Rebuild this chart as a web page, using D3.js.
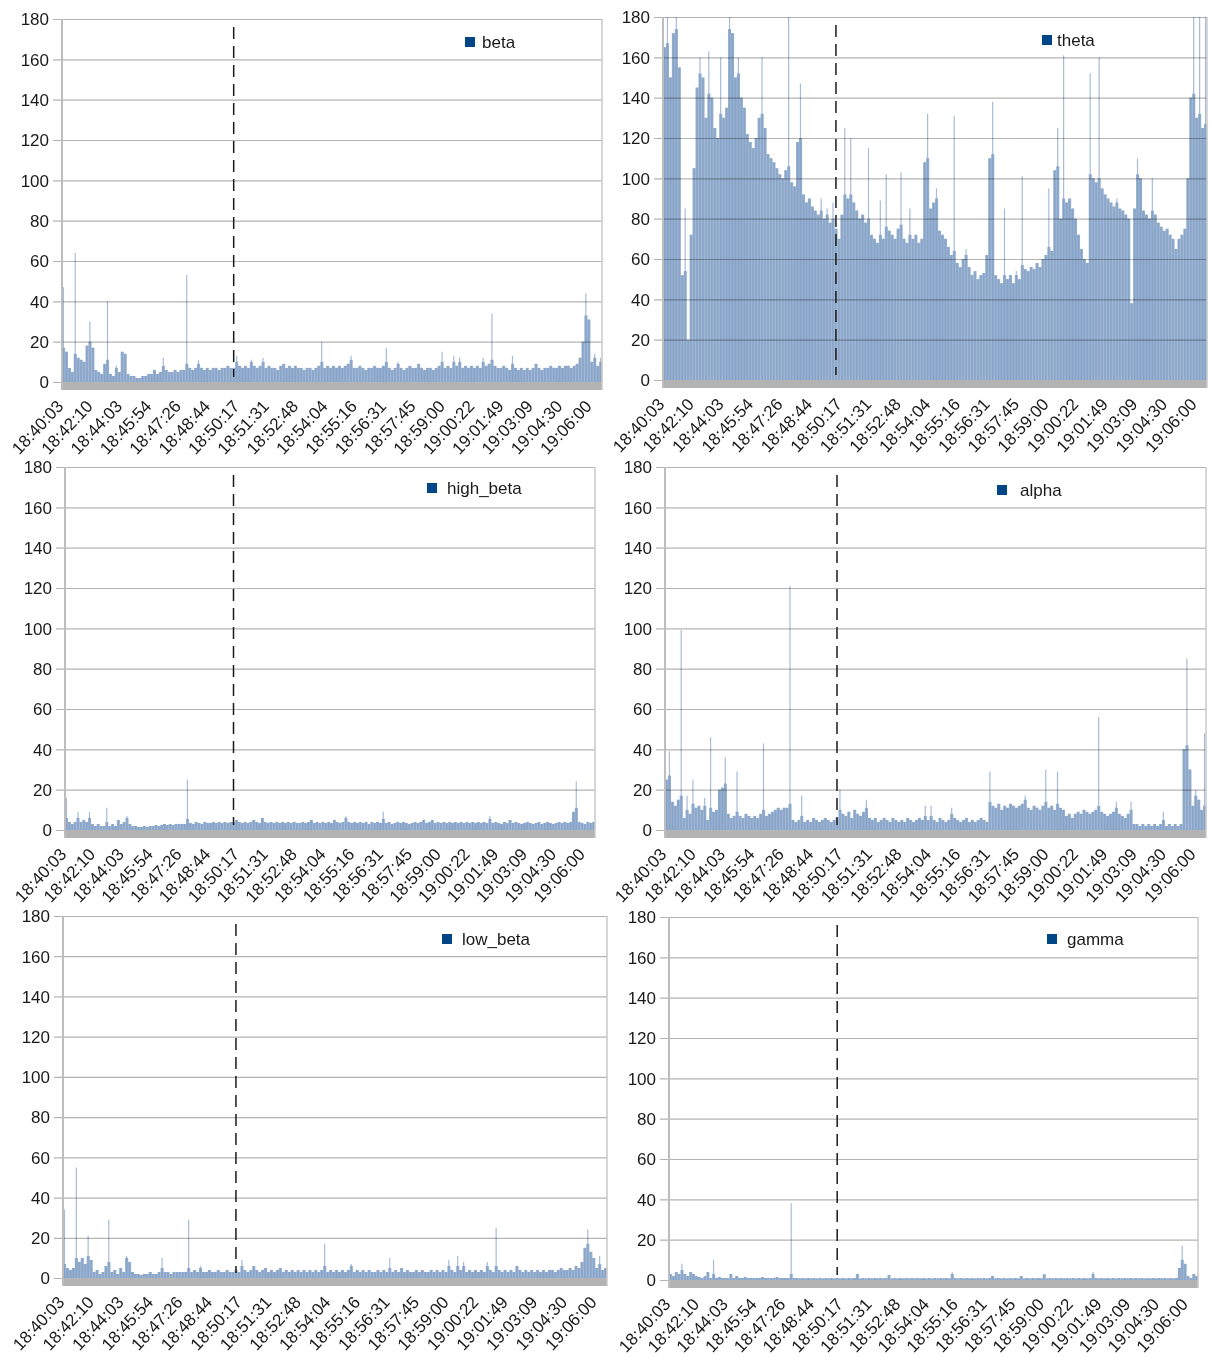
<!DOCTYPE html>
<html>
<head>
<meta charset="utf-8">
<script src="https://cdn.jsdelivr.net/npm/d3@7"></script>
<style>
  html, body { margin: 0; padding: 0; background: #fff; }
  svg text { font-family: "Liberation Sans", Arial, sans-serif; fill: #1a1a1a; }
  .grid .tick line { mix-blend-mode: multiply; }
</style>
</head>
<body>
<svg id="chart" width="1211" height="1356"></svg>
<script>
// Sample timestamps shown on the category axis (one label every labelStep samples)
const timeLabels = ["18:40:03","18:42:10","18:44:03","18:45:54","18:47:26","18:48:44","18:50:17",
  "18:51:31","18:52:48","18:54:04","18:55:16","18:56:31","18:57:45","18:59:00","19:00:22",
  "19:01:49","19:03:09","19:04:30","19:06:00"];
const yTicks = [0, 20, 40, 60, 80, 100, 120, 140, 160, 180];
const yMax = 180;
const labelStep = 10;
const markerIndex = 58;   // event marker (dashed line)

// Band power per sample
const beta = [
  47,15,7,5,64,12,11,10,18,30,
  17,6,5,4,9,40,4,3,8,5,
  15,14,4,3,3,2,2,3,3,4,
  4,6,4,5,12,6,5,5,6,5,
  6,6,53,7,6,7,11,7,6,7,
  6,7,7,6,7,7,8,7,7,13,
  8,7,8,7,11,8,7,8,12,7,
  8,7,7,6,8,9,7,8,7,8,
  7,7,6,7,7,6,7,8,20,7,
  8,7,8,7,8,7,8,9,13,7,
  7,8,7,6,7,7,8,7,7,8,
  17,7,6,7,10,7,6,7,8,7,
  7,9,7,6,7,7,6,7,8,15,
  7,8,7,13,8,12,7,8,7,8,
  7,8,7,12,8,9,34,8,7,7,
  8,7,6,13,7,6,7,6,7,6,
  7,9,7,6,7,7,8,7,7,8,
  7,8,8,7,8,9,12,20,44,31,
  10,14,8,12
];
const theta = [
  165,180,150,172,180,155,52,85,20,72,
  105,145,160,150,130,163,140,125,120,160,
  130,135,180,172,150,160,140,135,122,118,
  115,120,130,160,125,112,110,108,105,102,
  100,104,180,98,96,118,147,92,88,90,
  86,84,82,90,80,85,78,88,75,70,
  82,125,90,120,88,84,80,82,78,115,
  72,70,68,89,70,102,74,72,70,75,
  103,70,68,85,70,72,68,70,108,132,
  85,88,95,74,72,70,66,62,131,58,
  56,60,65,56,52,54,50,52,53,62,
  110,138,52,50,48,85,50,52,48,54,
  50,101,55,54,56,55,58,56,60,62,
  95,64,104,125,80,161,88,90,85,80,
  72,65,60,58,152,100,98,160,95,92,
  90,88,86,90,85,84,82,80,38,85,
  110,100,84,82,80,100,82,78,76,74,
  75,72,70,65,70,72,75,100,140,180,
  130,180,125,180
];
const highBeta = [
  16,4,3,4,9,4,5,4,9,3,
  2,3,2,2,11,2,3,2,5,3,
  4,7,3,2,2,1.5,1.5,2,1.5,2,
  2,2.5,2,2.5,3,2.5,3,2.5,3,3,
  3,3,25,3.5,3,4,3.5,3,4,3.5,
  3.5,4,3.5,4,3.5,4,3.5,4,4,5,
  4,3.5,4,3.5,4,5,4,3.5,6,4,
  3.5,4,3.5,4,3.5,4,3.5,4,3.5,4,
  3.5,3.5,4,3.5,4,5,3.5,4,3.5,4,
  3.5,4,3.5,5,4,3.5,4,7,4,3.5,
  4,3.5,4,3.5,4,3,4,3.5,4,3.5,
  9,3.5,4,3,3.5,4,3.5,4,3.5,3,
  3.5,4,3.5,4,5,3.5,4,5,3.5,4,
  3.5,4,3.5,4,3.5,4,3.5,4,3.5,4,
  3.5,4,3.5,4,3.5,4,3.5,7,3.5,4,
  3.5,3,4,3.5,5,3.5,4,3.5,3,3.5,
  4,3.5,3,3.5,4,3,3.5,4,3.5,3,
  3.5,4,3.5,4,3.5,4,9,24,4,3.5,
  3,4,3.5,4
];
const alpha = [
  25,39,14,12,15,99,6,17,8,25,
  11,12,10,16,5,46,9,10,20,21,
  36,8,6,7,29,7,6,8,7,6,
  7,6,8,43,7,8,9,10,11,10,
  11,11,121,5,4,5,17,4,5,4,
  6,5,4,5,6,5,4,5,6,20,
  8,7,9,6,10,8,7,9,15,6,
  5,6,4,5,6,5,4,6,5,4,
  5,4,6,5,4,5,6,5,12,5,
  12,5,4,6,5,4,5,11,6,5,
  4,5,6,4,5,4,5,6,5,4,
  29,12,11,13,10,12,11,13,12,11,
  12,13,17,11,10,12,11,10,12,30,
  11,12,10,29,11,10,7,8,6,8,
  9,8,10,9,8,9,10,56,9,8,
  7,8,9,14,8,7,6,8,14,3,
  3,2,3,2,3,2,3,2,3,9,
  2,3,2,3,2,3,40,85,30,12,
  20,15,10,48
];
const lowBeta = [
  34,5,4,5,55,8,10,7,21,9,
  3,4,2,3,6,29,3,4,2,5,
  3,11,8,3,2,2,1.5,2,2,3,
  2,2,3,10,3,3,2,3,3,3,
  3,3,29,3,4,3,6,3,3,4,
  3,3,4,3,3,4,3,3,4,3,
  9,4,3,4,6,4,3,4,5,3,
  4,3,4,5,3,4,3,4,3,4,
  3,4,3,4,3,4,3,4,17,3,
  4,3,4,3,4,3,4,7,3,4,
  3,4,3,4,3,3,4,3,4,3,
  10,3,4,3,5,3,4,3,3,4,
  3,4,3,3,4,3,4,3,4,3,
  9,4,3,11,4,8,3,4,3,4,
  3,4,3,8,4,3,25,4,3,4,
  3,4,3,6,4,3,4,3,4,3,
  4,3,4,3,4,4,3,4,5,4,
  4,5,4,6,5,8,15,24,13,10,
  5,11,4,5
];
const gamma = [
  3,2,4,3,8,3,2,4,3,2,
  1.5,1,2,4,1,10,1,1.5,1,1,
  1,3,1,2,1,1,1.5,1,1,1,
  1,1,1.5,1,1,1,1,1.5,1,1,
  1,1,38,1,1,0.8,1,0.8,1,0.8,
  1,0.8,1,0.8,1,0.8,1,0.8,1,0.8,
  1,0.8,1,0.8,1,3,0.8,1,0.8,1,
  0.8,1,0.8,1,0.8,1,2.5,0.8,1,0.8,
  1,0.8,1,0.8,1,0.8,1,0.8,1,0.8,
  1,0.8,1,0.8,1,0.8,1,0.8,4,1,
  0.8,1,0.8,1,0.8,1,0.8,1,0.8,1,
  0.8,1,2,0.8,1,0.8,1,0.8,1,0.8,
  1,0.8,2,0.8,1,0.8,1,0.8,1,0.8,
  3,0.8,1,0.8,1,0.8,1,0.8,1,0.8,
  1,0.8,1,0.8,1,0.8,1,4,1,0.8,
  1,0.8,1,0.8,1,0.8,1,0.8,1,0.8,
  1,0.8,1,0.8,1,0.8,1,0.8,1,0.8,
  1,0.8,1,0.8,1,0.8,1,6,17,8,
  2,1,3,2
];

// Panel layout: plot rectangle and legend placement for each band
const panels = [
  { name: "beta",      values: beta,     left: 62,  right: 602,  top: 19,  bottom: 382,  legendX: 465,  legendY: 42,  textX: 482 },
  { name: "theta",     values: theta,    left: 663, right: 1207, top: 17,  bottom: 380,  legendX: 1042, legendY: 40,  textX: 1057 },
  { name: "high_beta", values: highBeta, left: 65,  right: 595,  top: 467, bottom: 830,  legendX: 427,  legendY: 488, textX: 447 },
  { name: "alpha",     values: alpha,    left: 665, right: 1206, top: 467, bottom: 830,  legendX: 997,  legendY: 490, textX: 1020 },
  { name: "low_beta",  values: lowBeta,  left: 63,  right: 607,  top: 916, bottom: 1278, legendX: 442,  legendY: 939, textX: 462 },
  { name: "gamma",     values: gamma,    left: 669, right: 1198, top: 917, bottom: 1280, legendX: 1047, legendY: 939, textX: 1067 }
];

const gridColor = "#b3b3b3";
const barColor = "#7f9dc4";
const spikeColor = "#a8bcd6";
const legendColor = "#004586";
const floorHeight = 8;
const fontSize = 17;

const svg = d3.select("#chart");

panels.forEach(p => {
  const g = svg.append("g").attr("class", "panel " + p.name);
  const vals = p.values;
  const n = vals.length;

  const x = d3.scaleBand().domain(d3.range(n)).range([p.left, p.right]);
  const y = d3.scaleLinear().domain([0, yMax]).range([p.bottom, p.top]).clamp(true);
  const bw = x.bandwidth();

  // each sample: solid body up to its neighbours' level, thin line for the part that sticks out
  const neighbour = i => Math.max(i > 0 ? vals[i - 1] : 0, i < n - 1 ? vals[i + 1] : 0);
  const body = (d, i) => Math.min(d, neighbour(i) + 2);

  const bars = g.append("g");
  bars.selectAll("line.spike")
    .data(vals)
    .join("line")
    .attr("class", "spike")
    .attr("x1", (d, i) => x(i) + bw / 2)
    .attr("x2", (d, i) => x(i) + bw / 2)
    .attr("y1", d => y(d))
    .attr("y2", p.bottom)
    .attr("stroke", spikeColor)
    .attr("stroke-width", 1.2);
  bars.selectAll("rect")
    .data(vals)
    .join("rect")
    .attr("x", (d, i) => x(i))
    .attr("width", bw + 0.15)
    .attr("y", (d, i) => y(body(d, i)))
    .attr("height", (d, i) => p.bottom - y(body(d, i)))
    .attr("fill", barColor)
    .attr("fill-opacity", 0.82);

  // horizontal gridlines + value labels (drawn over the bars)
  const yAxis = d3.axisLeft(y)
    .tickValues(yTicks)
    .tickSize(-(p.right - p.left + 9))
    .tickPadding(4)
    .tickFormat(d3.format("d"));
  const yg = g.append("g")
    .attr("class", "grid")
    .attr("transform", `translate(${p.left - 9},0)`)
    .call(yAxis);
  yg.select(".domain").remove();
  yg.selectAll(".tick line").attr("stroke", gridColor).attr("stroke-width", 1.2);
  yg.selectAll(".tick text")
    .attr("font-size", fontSize)
    .attr("dy", "0.34em");

  // floor under the baseline
  g.append("rect")
    .attr("x", p.left).attr("y", p.bottom)
    .attr("width", p.right - p.left).attr("height", floorHeight)
    .attr("fill", gridColor);

  // left axis wall and right border
  g.append("line")
    .attr("x1", p.left).attr("x2", p.left)
    .attr("y1", p.top).attr("y2", p.bottom + floorHeight)
    .attr("stroke", "#bdbdbd").attr("stroke-width", 2);
  g.append("line")
    .attr("x1", p.right).attr("x2", p.right)
    .attr("y1", p.top).attr("y2", p.bottom + floorHeight)
    .attr("stroke", "#c8c8c8").attr("stroke-width", 1.5);

  // category axis with rotated timestamps
  const xAxis = d3.axisBottom(x)
    .tickValues(d3.range(0, n, labelStep))
    .tickFormat(i => timeLabels[i / labelStep])
    .tickSize(0);
  const xg = g.append("g")
    .attr("transform", `translate(0,${p.bottom + floorHeight})`)
    .call(xAxis);
  xg.select(".domain").remove();
  xg.selectAll(".tick text")
    .attr("font-size", fontSize)
    .attr("x", 0).attr("y", 0).attr("dy", null)
    .attr("text-anchor", "end")
    .attr("transform", "translate(1,17) rotate(-47)");

  // event marker
  const mx = x(markerIndex) + bw / 2;
  g.append("line")
    .attr("x1", mx).attr("x2", mx)
    .attr("y1", p.top + 8).attr("y2", p.bottom - 5)
    .attr("stroke", "#1a1a1a").attr("stroke-width", 1.5)
    .attr("stroke-dasharray", "12,7");

  // legend
  g.append("rect")
    .attr("x", p.legendX).attr("y", p.legendY - 5)
    .attr("width", 10).attr("height", 10)
    .attr("fill", legendColor);
  g.append("text")
    .attr("x", p.textX).attr("y", p.legendY)
    .attr("dy", "0.34em")
    .attr("font-size", fontSize)
    .text(p.name);
});
</script>
</body>
</html>
